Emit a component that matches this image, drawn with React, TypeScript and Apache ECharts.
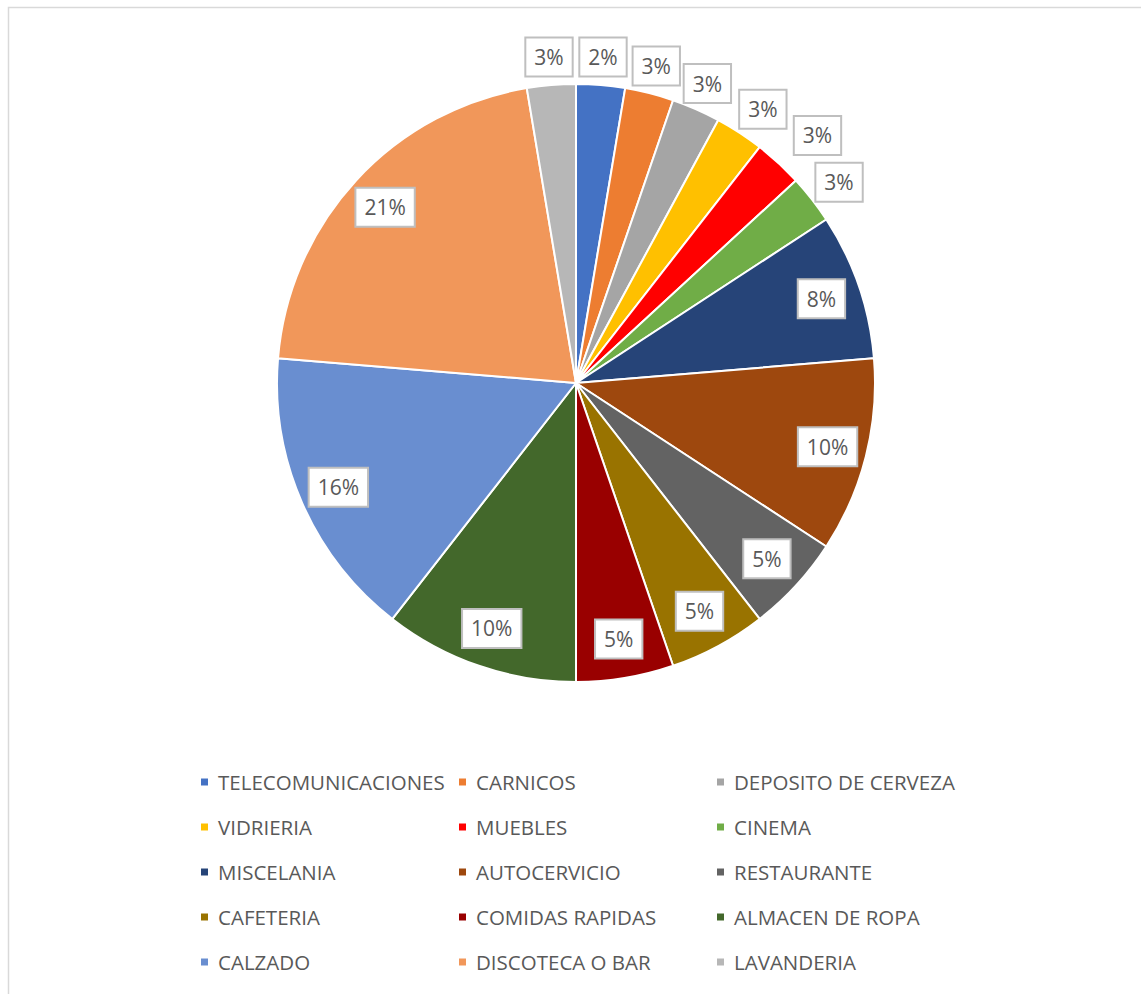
import React, { useEffect, useRef } from "react";
import * as echarts from "echarts";

const categories = [
  "TELECOMUNICACIONES",
  "CARNICOS",
  "DEPOSITO DE CERVEZA",
  "VIDRIERIA",
  "MUEBLES",
  "CINEMA",
  "MISCELANIA",
  "AUTOCERVICIO",
  "RESTAURANTE",
  "CAFETERIA",
  "COMIDAS RAPIDAS",
  "ALMACEN DE ROPA",
  "CALZADO",
  "DISCOTECA O BAR",
  "LAVANDERIA",
];

const values = [1, 1, 1, 1, 1, 1, 3, 4, 2, 2, 2, 4, 6, 8, 1];

const percentLabels = [
  "2%", "3%", "3%", "3%", "3%", "3%", "8%", "10%", "5%", "5%", "5%", "10%", "16%", "21%", "3%",
];

const colors = [
  "#4472C4",
  "#ED7D31",
  "#A5A5A5",
  "#FFC000",
  "#FF0000",
  "#70AD47",
  "#264478",
  "#9E480E",
  "#636363",
  "#997300",
  "#990000",
  "#43682B",
  "#698ED0",
  "#F1975A",
  "#B7B7B7",
];

const legendColumns = [
  ["TELECOMUNICACIONES", "VIDRIERIA", "MISCELANIA", "CAFETERIA", "CALZADO"],
  ["CARNICOS", "MUEBLES", "AUTOCERVICIO", "COMIDAS RAPIDAS", "DISCOTECA O BAR"],
  ["DEPOSITO DE CERVEZA", "CINEMA", "RESTAURANTE", "ALMACEN DE ROPA", "LAVANDERIA"],
];

const FONT = "'Open Sans', 'Noto Sans', sans-serif";
const TEXT_COLOR = "#595959";

export default function App() {
  const ref = useRef<HTMLDivElement>(null);

  useEffect(() => {
    if (!ref.current) return;
    const chart = echarts.init(ref.current, undefined, { renderer: "svg" });

    const center = [576, 383];
    const labelBox = {
      color: TEXT_COLOR,
      fontFamily: FONT,
      fontSize: 21,
      lineHeight: 24,
      backgroundColor: "#ffffff",
      borderColor: "#BFBFBF",
      borderWidth: 2,
      padding: [7, 8, 6, 8],
      formatter: (p: any) => percentLabels[p.dataIndex],
    };

    const transparentData = (showFn: (v: number) => boolean) =>
      categories.map((name, i) => ({
        name,
        value: values[i],
        itemStyle: { color: "rgba(0,0,0,0)", borderWidth: 0 },
        label: { show: showFn(values[i]) },
      }));

    // small nudges Excel applied to crowded outer labels (VIDRIERIA, MUEBLES, CINEMA)
    const outerNudge: Record<number, [number, number]> = { 3: [8, 0], 4: [20, -7], 5: [5, 0] };

    const option: any = {
      animation: false,
      color: colors,
      graphic: [
        {
          type: "rect",
          silent: true,
          shape: { x: 8.5, y: 7.5, width: 1200, height: 1100 },
          style: { fill: "none", stroke: "#D9D9D9", lineWidth: 1.5 },
        },
      ],
      legend: legendColumns.map((col, ci) => ({
        orient: "vertical",
        left: [199, 457, 715][ci],
        top: 770,
        padding: 0,
        itemGap: 21,
        itemWidth: 9,
        itemHeight: 9,
        icon: "rect",
        selectedMode: false,
        data: col,
        textStyle: {
          color: TEXT_COLOR,
          fontFamily: FONT,
          fontSize: 20.5,
          lineHeight: 24,
          padding: [0, 0, 0, 4],
        },
      })),
      series: [
        {
          type: "pie",
          center,
          radius: 299,
          startAngle: 90,
          clockwise: true,
          avoidLabelOverlap: false,
          label: { show: false },
          labelLine: { show: false },
          emphasis: { disabled: true },
          itemStyle: { borderColor: "#ffffff", borderWidth: 2 },
          data: categories.map((name, i) => ({
            name,
            value: values[i],
            itemStyle: { color: colors[i] },
          })),
        },
        {
          type: "pie",
          center,
          radius: [214, 299],
          startAngle: 90,
          clockwise: true,
          silent: true,
          avoidLabelOverlap: false,
          emphasis: { disabled: true },
          labelLine: { show: false },
          labelLayout: { hideOverlap: false },
          label: { position: "inside", ...labelBox },
          data: transparentData((v) => v > 1),
        },
        {
          type: "pie",
          center,
          radius: [299, 349],
          startAngle: 90,
          clockwise: true,
          silent: true,
          avoidLabelOverlap: false,
          emphasis: { disabled: true },
          labelLine: { show: false },
          labelLayout: (p: any) => {
            const n = outerNudge[p.dataIndex];
            return n ? { hideOverlap: false, dx: n[0], dy: n[1] } : { hideOverlap: false };
          },
          label: { position: "inside", ...labelBox },
          data: transparentData((v) => v <= 1),
        },
      ],
    };

    chart.setOption(option);
    return () => chart.dispose();
  }, []);

  return (
    <div
      ref={ref}
      style={{ position: "absolute", left: 0, top: 0, width: 1141, height: 994, background: "#ffffff" }}
    />
  );
}
